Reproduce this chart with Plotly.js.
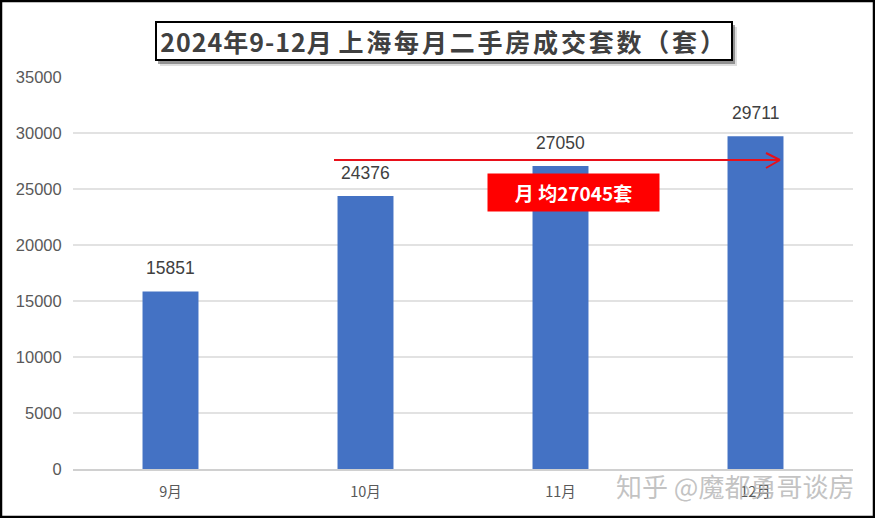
<!DOCTYPE html>
<html>
<head>
<meta charset="utf-8">
<script src="https://cdn.plot.ly/plotly-3.0.1.min.js"></script>
<style>
  html, body { margin: 0; padding: 0; background: #fff; }
  #chart { width: 875px; height: 518px; }
</style>
</head>
<body>
<div id="chart"></div>
<script>
const months = ['9月', '10月', '11月', '12月']
const sales = [15851, 24376, 27050, 29711]
const yTicks = [0, 5000, 10000, 15000, 20000, 25000, 30000, 35000]
const titleYear = '2024年9-12月'
const titleRest = '上海每月二手房成交套数（套）'
const avgText = '月 均27045套'
const watermark = '知乎 @魔都勇哥谈房'

const W = 875, H = 518
const L = 73, R = 22, T = 77, B = 49
const px = x => (x - L) / (W - L - R)
const py = y => (H - B - y) / (H - T - B)
const cjk = '"Noto Sans CJK SC", "Liberation Sans", sans-serif'
const latin = '"Liberation Sans", "Noto Sans CJK SC", sans-serif'

const rect = (x0, y0, x1, y1, style) => ({
  type: 'rect', xref: 'paper', yref: 'paper',
  x0: px(x0), x1: px(x1), y0: py(y0), y1: py(y1),
  ...style,
})
const seg = (x0, y0, x1, y1, color, width) => ({
  type: 'line', xref: 'paper', yref: 'paper',
  x0: px(x0), x1: px(x1), y0: py(y0), y1: py(y1),
  line: { color, width },
})
const note = (x, y, text, extra) => ({
  xref: 'paper', yref: 'paper', x: px(x), y: py(y),
  xanchor: 'center', yanchor: 'middle',
  text, showarrow: false,
  ...extra,
})

const data = [{
  type: 'bar',
  x: months,
  y: sales,
  marker: { color: '#4472C4' },
  hoverinfo: 'x+y',
}]

// value labels sit well above the bars, so they are annotations and not bar text
const valueLabels = sales.map((v, i) => ({
  x: months[i], y: v,
  xref: 'x', yref: 'y',
  xanchor: 'center', yanchor: 'bottom', yshift: 11,
  text: String(v), showarrow: false,
  font: { family: latin, size: 17.5, color: '#404040' },
}))

const layout = {
  width: W,
  height: H,
  margin: { l: L, r: R, t: T, b: B, pad: 0 },
  paper_bgcolor: '#fff',
  plot_bgcolor: '#fff',
  showlegend: false,
  bargap: 0.713,
  font: { family: latin, color: '#595959' },
  xaxis: {
    type: 'category',
    linecolor: '#d0d0d0',
    linewidth: 1.5,
    showgrid: false,
    ticks: 'outside',
    ticklen: 9,
    tickcolor: 'rgba(0,0,0,0)',
    tickfont: { family: cjk, size: 14.5, color: '#595959' },
    automargin: false,
  },
  yaxis: {
    range: [0, 35000],
    tickvals: yTicks,
    ticktext: yTicks.map(String),
    gridcolor: '#e2e2e2',
    gridwidth: 1.5,
    zeroline: false,
    showline: false,
    ticks: 'outside',
    ticklen: 7,
    tickcolor: 'rgba(0,0,0,0)',
    tickfont: { family: latin, size: 16.5, color: '#595959' },
    automargin: false,
  },
  shapes: [
    // title box shadow
    rect(160, 27, 737, 66, { fillcolor: 'rgba(90,90,90,0.2)', line: { width: 0 } }),
    rect(158, 25, 735, 64, { fillcolor: 'rgba(70,70,70,0.5)', line: { width: 0 } }),
    // average arrow
    seg(334, 160, 780, 160, '#E8101A', 2),
    seg(766, 153, 780, 160, '#E8101A', 2),
    seg(766, 168, 780, 160, '#E8101A', 2),
    // outer frame
    rect(1, 1, 874, 517, { line: { color: '#000', width: 2.5 }, fillcolor: 'rgba(0,0,0,0)' }),
  ],
  annotations: [
    note(443.5, 40.5,
      `<span style="letter-spacing:1px">${titleYear}</span> <span style="letter-spacing:2.8px">${titleRest}</span>`, {
      width: 574, height: 36,
      bgcolor: '#fff', bordercolor: '#000', borderwidth: 2, borderpad: 0,
      font: { family: cjk, size: 25, color: '#404040', weight: 700 },
    }),
    note(573.5, 192.5, avgText, {
      width: 171, height: 37,
      bgcolor: '#FF0000', borderpad: 0,
      font: { family: cjk, size: 19, color: '#fff', weight: 700 },
    }),
    ...valueLabels,
    note(735, 485, watermark, {
      font: { family: cjk, size: 26, color: 'rgba(175,175,175,0.75)' },
    }),
  ],
}

Plotly.newPlot('chart', data, layout, { displayModeBar: false, responsive: false })
</script>
</body>
</html>
